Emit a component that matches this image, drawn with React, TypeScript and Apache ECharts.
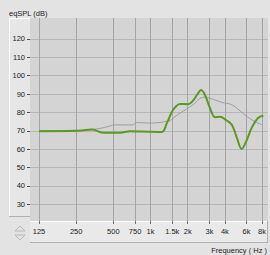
import React, { useEffect, useRef } from "react";
import * as echarts from "echarts";

// Frequency ticks (Hz) and their labels
const tickFreqs = [125, 250, 500, 750, 1000, 1500, 2000, 3000, 4000, 6000, 8000];
const tickLabels = ["125", "250", "500", "750", "1k", "1.5k", "2k", "3k", "4k", "6k", "8k"];
const dbTicks = [30, 40, 50, 60, 70, 80, 90, 100, 110, 120];

// Measured response (green)
const greenFreq = [125, 250, 336, 412, 566, 682, 1000, 1239, 1360, 1521, 1733, 2013, 2209, 2425, 2565, 2763, 3031, 3330, 3655, 4088, 4570, 5016, 5475, 5940, 6636, 7425, 8200];
const greenDb = [69.8, 70, 70.7, 69.0, 69.0, 69.8, 69.5, 69.4, 74.3, 81.3, 84.6, 84.5, 86.4, 90.4, 92.2, 89.5, 82.4, 77.4, 77.7, 75.9, 73.2, 66, 60.1, 64, 72, 77, 78.2];

// Target response (gray)
const grayFreq = [125, 250, 306, 390, 470, 497, 721, 763, 1000, 1194, 1310, 1438, 1579, 1733, 2013, 2293, 2517, 2763, 3031, 3456, 3863, 4403, 4834, 5825, 6636, 8000];
const grayDb = [70, 70, 70.5, 71.3, 72.6, 73.2, 73.2, 74.5, 74.2, 74.5, 75, 75.5, 77.7, 79.6, 82.3, 85, 87.7, 88.3, 87.7, 86.4, 85.3, 84.6, 83.1, 78.6, 75.9, 73.2];

const FONT = "Liberation Sans";
const lg = (f: number) => Math.log2(f);

export default function App() {
  const ref = useRef<HTMLDivElement>(null);
  useEffect(() => {
    document.body.style.margin = "0";
    const chart = echarts.init(ref.current!, null, { renderer: "svg" });
    const labelFor = (v: number) => {
      let best = 0;
      let bd = Infinity;
      tickFreqs.forEach((f, i) => {
        const d = Math.abs(lg(f) - v);
        if (d < bd) { bd = d; best = i; }
      });
      return tickLabels[best];
    };
    chart.setOption({
      animation: false,
      backgroundColor: "#e3e3e3",
      textStyle: { fontFamily: FONT },
      grid: {
        left: 30, right: 2, top: 18, bottom: 34,
        show: true, backgroundColor: "#d4d4d4", borderWidth: 0,
      },
      graphic: [
        // y-axis raised panel
        { type: "rect", z: -1, shape: { x: 9, y: 18, width: 21, height: 199 }, style: { fill: "#e6e6e6", stroke: null } },
        { type: "line", z: -1, shape: { x1: 9.5, y1: 18, x2: 9.5, y2: 217 }, style: { stroke: "#ffffff", lineWidth: 1 } },
        { type: "line", z: -1, shape: { x1: 9, y1: 18.5, x2: 30, y2: 18.5 }, style: { stroke: "#ffffff", lineWidth: 1 } },
        { type: "line", z: -1, shape: { x1: 9, y1: 216.5, x2: 30, y2: 216.5 }, style: { stroke: "#b0b0b0", lineWidth: 1 } },
        // x-axis panel
        { type: "rect", z: -1, shape: { x: 30, y: 221, width: 238, height: 22 }, style: { fill: "#e9e9e9", stroke: null } },
        { type: "line", z: -1, shape: { x1: 30, y1: 221.5, x2: 268, y2: 221.5 }, style: { stroke: "#ffffff", lineWidth: 1 } },
        { type: "line", z: -1, shape: { x1: 30, y1: 242.5, x2: 268, y2: 242.5 }, style: { stroke: "#b0b0b0", lineWidth: 1 } },
        { type: "line", z: -1, shape: { x1: 267.5, y1: 221, x2: 267.5, y2: 243 }, style: { stroke: "#b0b0b0", lineWidth: 1 } },
        // spinner arrows
        { type: "polygon", shape: { points: [[15, 231], [20, 226], [25, 231]] }, style: { fill: "none", stroke: "#b8b8b8", lineWidth: 1 } },
        { type: "polygon", shape: { points: [[15, 235], [20, 240], [25, 235]] }, style: { fill: "none", stroke: "#b8b8b8", lineWidth: 1 } },
        // axis titles
        { type: "text", x: 9, y: 13, style: { text: "eqSPL (dB)", fontFamily: FONT, fontSize: 7.5, fill: "#222", verticalAlign: "middle", align: "left" } },
        { type: "text", x: 267, y: 250, style: { text: "Frequency ( Hz )", fontFamily: FONT, fontSize: 7.5, fill: "#222", verticalAlign: "middle", align: "right" } },
      ],
      xAxis: {
        type: "value",
        min: lg(125) - 9 / 37.17,
        max: lg(8000) + 6 / 37.17,
        axisLine: { show: false },
        axisTick: { show: true, length: 3, customValues: tickFreqs.map(lg), lineStyle: { color: "#707070" } },
        axisLabel: {
          customValues: tickFreqs.map(lg), formatter: (v: number) => labelFor(v),
          fontSize: 7.5, color: "#222", fontFamily: FONT, margin: 6,
        },
        splitLine: { show: true, lineStyle: { color: "#a4a4a4", width: 1 } },
      },
      yAxis: {
        type: "value",
        min: 20.9,
        max: 131.4,
        axisLine: { show: false },
        axisTick: { show: true, length: 3, customValues: dbTicks, lineStyle: { color: "#505050" } },
        axisLabel: { customValues: dbTicks, fontSize: 7.5, color: "#222", fontFamily: FONT, margin: 5 },
        splitLine: { show: true, lineStyle: { color: "#b6b6b6", width: 1 } },
      },
      series: [
        {
          type: "line", symbol: "none", smooth: 0.2,
          data: grayFreq.map((f, i) => [lg(f), grayDb[i]]),
          lineStyle: { color: "#9e9e9e", width: 1 },
        },
        {
          type: "line", symbol: "none", smooth: 0.35,
          data: greenFreq.map((f, i) => [lg(f), greenDb[i]]),
          lineStyle: { color: "#5a9a22", width: 2 },
        },
      ],
    });
    return () => chart.dispose();
  }, []);
  return <div ref={ref} style={{ width: 270, height: 255 }} />;
}
